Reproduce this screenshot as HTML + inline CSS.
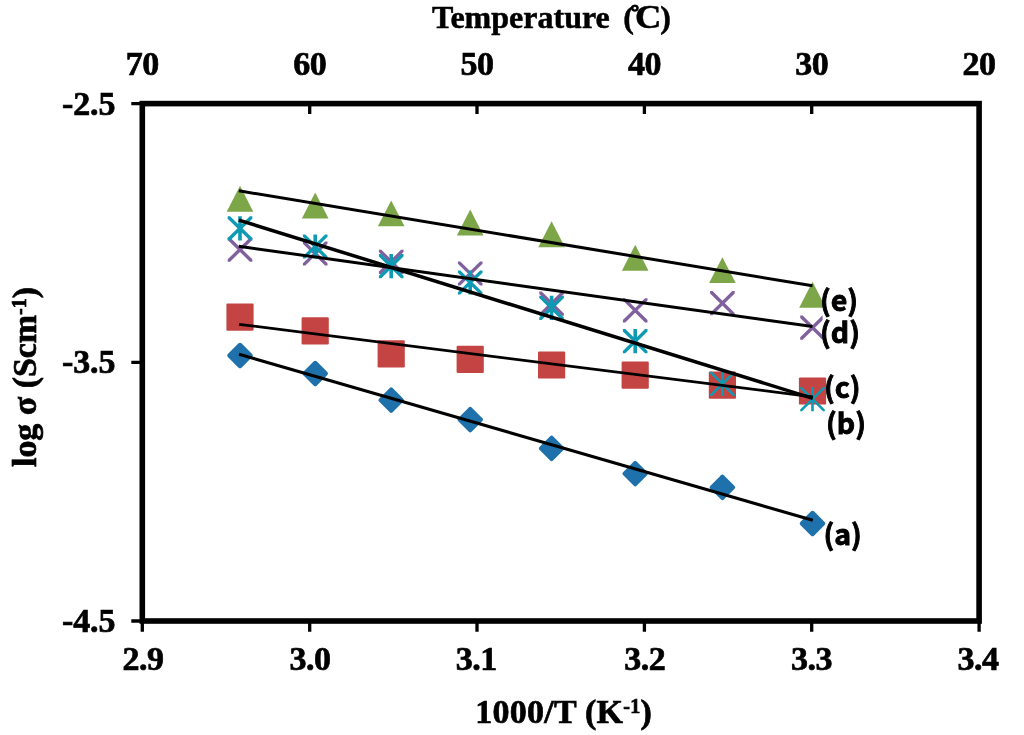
<!DOCTYPE html>
<html lang="en">
<head>
<meta charset="utf-8">
<title>Arrhenius plot</title>
<style>
html,body{margin:0;padding:0;background:#fff;}
body{width:1024px;height:735px;overflow:hidden;}
svg{display:block;}
.ax{font-family:"Liberation Serif","DejaVu Serif",serif;font-weight:bold;font-size:32px;fill:#000;stroke:#000;stroke-width:0.5px;}
.tk{font-size:34px;stroke-width:0.7px;letter-spacing:-0.5px;}
.lb{font-family:"Noto Sans CJK KR","Liberation Sans",sans-serif;font-weight:bold;font-size:28.5px;fill:#000;stroke:#000;stroke-width:0.9px;}
</style>
</head>
<body>
<svg width="1024" height="735" viewBox="0 0 1024 735">
<rect x="0" y="0" width="1024" height="735" fill="#ffffff"/>
<path d="M142.3 621.0V631.8M309.7 621.0V631.8M309.7 103.6V114.0M477.0 621.0V631.8M477.0 103.6V114.0M644.4 621.0V631.8M644.4 103.6V114.0M811.7 621.0V631.8M811.7 103.6V114.0M979.1 621.0V631.8M142.3 103.6H131.3M142.3 362.3H131.3M142.3 621.0H131.3" stroke="#000" stroke-width="3.3" fill="none"/>
<rect x="142.3" y="103.6" width="836.8" height="517.4" fill="none" stroke="#000" stroke-width="5.6"/>
<g fill="#1e71aa">
<rect x="-9.6" y="-9.6" width="19.2" height="19.2" rx="2" transform="translate(240.0 355.5) rotate(45)"/>
<rect x="-9.6" y="-9.6" width="19.2" height="19.2" rx="2" transform="translate(315.2 373.5) rotate(45)"/>
<rect x="-9.6" y="-9.6" width="19.2" height="19.2" rx="2" transform="translate(391.2 400.2) rotate(45)"/>
<rect x="-9.6" y="-9.6" width="19.2" height="19.2" rx="2" transform="translate(470.2 419.7) rotate(45)"/>
<rect x="-9.6" y="-9.6" width="19.2" height="19.2" rx="2" transform="translate(551.6 448.3) rotate(45)"/>
<rect x="-9.6" y="-9.6" width="19.2" height="19.2" rx="2" transform="translate(635.2 473.6) rotate(45)"/>
<rect x="-9.6" y="-9.6" width="19.2" height="19.2" rx="2" transform="translate(722.4 487.4) rotate(45)"/>
<rect x="-9.6" y="-9.6" width="19.2" height="19.2" rx="2" transform="translate(812.5 523.5) rotate(45)"/>
</g>
<g fill="#c44443">
<rect x="226.4" y="303.6" width="27.2" height="27.2" rx="1.2"/>
<rect x="301.6" y="317.2" width="27.2" height="27.2" rx="1.2"/>
<rect x="377.6" y="340.3" width="27.2" height="27.2" rx="1.2"/>
<rect x="456.6" y="345.8" width="27.2" height="27.2" rx="1.2"/>
<rect x="538.0" y="351.4" width="27.2" height="27.2" rx="1.2"/>
<rect x="621.6" y="361.5" width="27.2" height="27.2" rx="1.2"/>
<rect x="708.8" y="371.6" width="27.2" height="27.2" rx="1.2"/>
<rect x="798.9" y="377.4" width="27.2" height="27.2" rx="1.2"/>
</g>
<g fill="#7ca648">
<path d="M240.0 185.8L253.3 211.7H226.7Z"/>
<path d="M315.2 192.6L328.5 218.5H301.9Z"/>
<path d="M391.2 200.4L404.5 226.3H377.9Z"/>
<path d="M470.2 209.6L483.5 235.5H456.9Z"/>
<path d="M551.6 221.3L564.9 247.2H538.3Z"/>
<path d="M635.2 244.8L648.5 270.7H621.9Z"/>
<path d="M722.4 257.2L735.7 283.1H709.1Z"/>
<path d="M812.5 281.8L825.8 307.7H799.2Z"/>
</g>
<g fill="#81609e">
<path d="M227.7 237.5L230.1 237.5L252.3 259.3L252.3 261.7L249.9 261.7L227.7 239.9ZM252.3 239.9L230.1 261.7L227.7 261.7L227.7 259.3L249.9 237.5L252.3 237.5Z"/>
<path d="M302.9 241.4L305.3 241.4L327.5 263.2L327.5 265.6L325.1 265.6L302.9 243.8ZM327.5 243.8L305.3 265.6L302.9 265.6L302.9 263.2L325.1 241.4L327.5 241.4Z"/>
<path d="M378.9 249.7L381.3 249.7L403.5 271.5L403.5 273.9L401.1 273.9L378.9 252.1ZM403.5 252.1L381.3 273.9L378.9 273.9L378.9 271.5L401.1 249.7L403.5 249.7Z"/>
<path d="M457.9 261.4L460.3 261.4L482.5 283.2L482.5 285.6L480.1 285.6L457.9 263.8ZM482.5 263.8L460.3 285.6L457.9 285.6L457.9 283.2L480.1 261.4L482.5 261.4Z"/>
<path d="M539.3 291.6L541.7 291.6L563.9 313.4L563.9 315.8L561.5 315.8L539.3 294.0ZM563.9 294.0L541.7 315.8L539.3 315.8L539.3 313.4L561.5 291.6L563.9 291.6Z"/>
<path d="M622.9 298.2L625.3 298.2L647.5 320.0L647.5 322.4L645.1 322.4L622.9 300.6ZM647.5 300.6L625.3 322.4L622.9 322.4L622.9 320.0L645.1 298.2L647.5 298.2Z"/>
<path d="M710.1 291.1L712.5 291.1L734.7 312.9L734.7 315.3L732.3 315.3L710.1 293.5ZM734.7 293.5L712.5 315.3L710.1 315.3L710.1 312.9L732.3 291.1L734.7 291.1Z"/>
<path d="M800.2 315.5L802.6 315.5L824.8 337.3L824.8 339.7L822.4 339.7L800.2 317.9ZM824.8 317.9L802.6 339.7L800.2 339.7L800.2 337.3L822.4 315.5L824.8 315.5Z"/>
</g>
<g fill="#0f9ab4">
<path d="M227.7 216.3L230.1 216.3L252.3 238.1L252.3 240.5L249.9 240.5L227.7 218.7ZM252.3 218.7L230.1 240.5L227.7 240.5L227.7 238.1L249.9 216.3L252.3 216.3ZM238.2 216.3h3.6v24.2h-3.6Z"/>
<path d="M302.9 234.4L305.3 234.4L327.5 256.2L327.5 258.6L325.1 258.6L302.9 236.8ZM327.5 236.8L305.3 258.6L302.9 258.6L302.9 256.2L325.1 234.4L327.5 234.4ZM313.4 234.4h3.6v24.2h-3.6Z"/>
<path d="M378.9 254.0L381.3 254.0L403.5 275.8L403.5 278.2L401.1 278.2L378.9 256.4ZM403.5 256.4L381.3 278.2L378.9 278.2L378.9 275.8L401.1 254.0L403.5 254.0ZM389.4 254.0h3.6v24.2h-3.6Z"/>
<path d="M457.9 270.4L460.3 270.4L482.5 292.2L482.5 294.6L480.1 294.6L457.9 272.8ZM482.5 272.8L460.3 294.6L457.9 294.6L457.9 292.2L480.1 270.4L482.5 270.4ZM468.4 270.4h3.6v24.2h-3.6Z"/>
<path d="M539.3 295.7L541.7 295.7L563.9 317.5L563.9 319.9L561.5 319.9L539.3 298.1ZM563.9 298.1L541.7 319.9L539.3 319.9L539.3 317.5L561.5 295.7L563.9 295.7ZM549.8 295.7h3.6v24.2h-3.6Z"/>
<path d="M622.9 329.1L625.3 329.1L647.5 350.9L647.5 353.3L645.1 353.3L622.9 331.5ZM647.5 331.5L625.3 353.3L622.9 353.3L622.9 350.9L645.1 329.1L647.5 329.1ZM633.4 329.1h3.6v24.2h-3.6Z"/>
<path d="M710.1 371.8L711.9 371.8L734.7 394.2L734.7 396.0L732.9 396.0L710.1 373.6ZM734.7 373.6L711.9 396.0L710.1 396.0L710.1 394.2L732.9 371.8L734.7 371.8ZM721.1 371.8h2.6v24.2h-2.6Z"/>
<path d="M800.2 387.0L802.0 387.0L824.8 409.4L824.8 411.2L823.0 411.2L800.2 388.8ZM824.8 388.8L802.0 411.2L800.2 411.2L800.2 409.4L823.0 387.0L824.8 387.0ZM811.2 387.0h2.6v24.2h-2.6Z"/>
</g>
<g stroke="#000" stroke-width="3.1" fill="none">
<line x1="239.0" y1="354.2" x2="812.8" y2="520.3" stroke-width="3.1"/>
<line x1="239.0" y1="324.3" x2="812.8" y2="396.9" stroke-width="2.7"/>
<line x1="238.8" y1="190.8" x2="812.5" y2="285.8" stroke-width="3.0"/>
<line x1="238.8" y1="246.3" x2="812.5" y2="326.6" stroke-width="3.0"/>
<line x1="238.8" y1="220.1" x2="812.8" y2="398.3" stroke-width="3.5"/>
</g>
<g class="ax tk" text-anchor="middle">
<text x="142.3" y="75.4">70</text>
<text x="309.7" y="75.4">60</text>
<text x="477.0" y="75.4">50</text>
<text x="644.4" y="75.4">40</text>
<text x="811.7" y="75.4">30</text>
<text x="979.1" y="75.4">20</text>
<text x="143.1" y="669.8">2.9</text>
<text x="310.1" y="669.8">3.0</text>
<text x="476.2" y="669.8">3.1</text>
<text x="644.8" y="669.8">3.2</text>
<text x="811.5" y="669.8">3.3</text>
<text x="977.9" y="669.8">3.4</text>
</g>
<g class="ax tk" text-anchor="end">
<text x="115.3" y="114.5" style="letter-spacing:-0.15px">-2.5</text>
<text x="115.3" y="373.2" style="letter-spacing:-0.15px">-3.5</text>
<text x="115.3" y="631.9" style="letter-spacing:-0.15px">-4.5</text>
</g>
<text class="ax" x="432" y="27.8">Temperature <tspan x="623.3">(</tspan><tspan x="630.5" y="18.5" font-size="22" stroke-width="1.2">&#176;</tspan><tspan x="634.9" y="28.2" font-size="33" textLength="26.4" lengthAdjust="spacingAndGlyphs">C</tspan><tspan x="660.2" y="27.8">)</tspan></text>
<text class="ax tk" x="475.2" y="723.4" style="letter-spacing:0.25px">1000/T (K<tspan font-size="20" dy="-10">-1</tspan><tspan dy="10">)</tspan></text>
<text class="ax tk" transform="translate(35.7 467) rotate(-90)" style="letter-spacing:-0.05px">log &#963; (Scm<tspan font-size="20" dy="-10">-1</tspan><tspan dy="10">)</tspan></text>
<rect x="822.6" y="284" width="40" height="70" fill="#fff"/>
<g class="lb">
<text x="820" y="311">(e)</text>
<text x="820" y="343">(d)</text>
<text x="824" y="397.5">(c)</text>
<text x="826" y="433.5">(b)</text>
<text x="823.5" y="544.5">(a)</text>
</g>
</svg>
</body>
</html>
